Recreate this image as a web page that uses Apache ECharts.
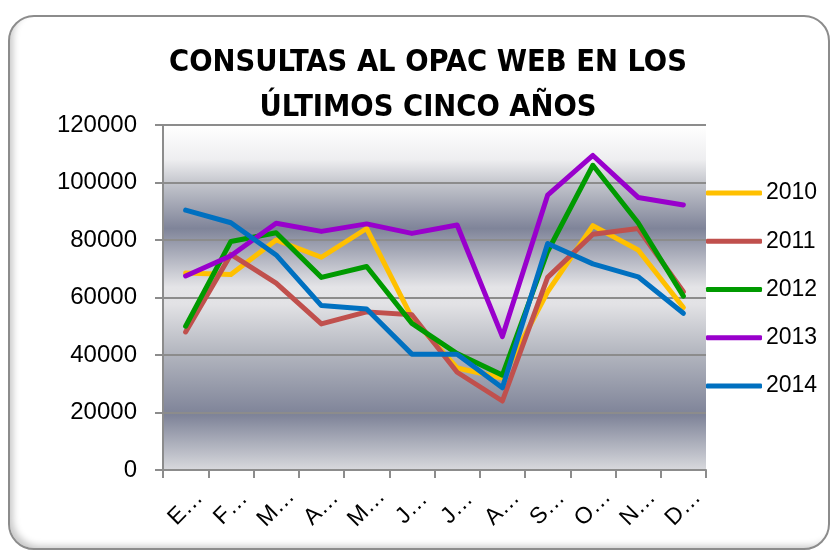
<!DOCTYPE html>
<html>
<head>
<meta charset="utf-8">
<script src="https://cdn.jsdelivr.net/npm/echarts@6/dist/echarts.min.js"></script>
<style>
  html, body { margin: 0; padding: 0; background: #ffffff; }
  #wrap { position: relative; width: 832px; height: 552px; overflow: hidden; }
  #frame {
    position: absolute; left: 8px; top: 15px; width: 822px; height: 535px;
    border: 2px solid #8c8c8c; border-radius: 26px; background: #ffffff;
    box-shadow: inset 6px -5px 7px -3px rgba(0,0,0,0.22);
    box-sizing: border-box;
  }
  #chart { position: absolute; left: 0; top: 0; width: 832px; height: 552px; }
</style>
</head>
<body>
<div id="wrap">
  <div id="frame"></div>
  <div id="chart"></div>
</div>
<script>
// Monthly OPAC web queries, one array per year
const months = ['Enero', 'Febrero', 'Marzo', 'Abril', 'Mayo', 'Junio',
                'Julio', 'Agosto', 'Septiembre', 'Octubre', 'Noviembre', 'Diciembre'];
const years = ['2010', '2011', '2012', '2013', '2014'];
const q2010 = [68500, 68000, 80000, 74000, 84000, 53000, 35500, 32000, 62000, 85000, 76500, 56500];
const q2011 = [48000, 75000, 65000, 50800, 55000, 54000, 34000, 24000, 67000, 82000, 84000, 62000];
const q2012 = [50000, 79500, 82500, 67000, 70800, 51000, 40500, 33000, 76000, 106000, 86000, 60500];
const q2013 = [67500, 74500, 85800, 83000, 85600, 82300, 85200, 46400, 95600, 109400, 94800, 92200];
const q2014 = [90400, 86000, 74800, 57200, 56000, 40300, 40300, 28600, 78800, 71700, 67200, 54500];
const yearColors = ['#ffc000', '#c0504d', '#009a00', '#9900cc', '#0070c0'];
const chartTitle = 'CONSULTAS AL OPAC WEB EN LOS\nÚLTIMOS CINCO AÑOS';

const values = [q2010, q2011, q2012, q2013, q2014];
const baseFont = '"Liberation Sans", Arial, sans-serif';

const chart = echarts.init(document.getElementById('chart'), null, { renderer: 'canvas' });

chart.setOption({
  backgroundColor: 'transparent',
  animation: false,
  color: yearColors,
  title: {
    text: chartTitle,
    left: 423,
    textAlign: 'center',
    top: 36,
    textStyle: {
      fontFamily: '"Liberation Sans Narrow", "DejaVu Sans Condensed", sans-serif',
      fontWeight: 'bold',
      fontSize: 30.5,
      lineHeight: 45,
      color: '#000000'
    }
  },
  grid: {
    left: 163, right: 126, top: 125, bottom: 82,
    show: true,
    borderWidth: 0,
    backgroundColor: {
      type: 'linear', x: 0, y: 0, x2: 0, y2: 1,
      colorStops: [
        { offset: 0.00, color: '#ffffff' },
        { offset: 0.10, color: '#eeeef0' },
        { offset: 0.17, color: '#c3c5cc' },
        { offset: 0.30, color: '#7f8499' },
        { offset: 0.47, color: '#e4e4e7' },
        { offset: 0.52, color: '#e2e2e5' },
        { offset: 0.66, color: '#b3b6bf' },
        { offset: 0.84, color: '#7e8398' },
        { offset: 1.00, color: '#d8d9dd' }
      ]
    }
  },
  legend: {
    orient: 'vertical',
    left: 701,
    top: 176,
    itemWidth: 56,
    itemHeight: 5,
    itemGap: 24.25,
    icon: 'roundRect',
    textStyle: {
      fontFamily: baseFont, fontSize: 23, lineHeight: 24, height: 24,
      color: '#000000', padding: [0, 0, 0, -1]
    },
    data: years
  },
  xAxis: {
    type: 'category',
    data: months,
    boundaryGap: true,
    axisLine: { show: true, lineStyle: { color: '#8c8c8c', width: 2 } },
    axisTick: { show: true, length: 8, lineStyle: { color: '#8c8c8c', width: 2 } },
    axisLabel: {
      rotate: 45,
      align: 'center',
      verticalAlign: 'middle',
      margin: 38,
      interval: 0,
      fontFamily: baseFont,
      fontSize: 23,
      color: '#000000',
      formatter: (v) => v.charAt(0) + '…'
    },
    splitLine: { show: false }
  },
  yAxis: {
    type: 'value',
    min: 0,
    max: 120000,
    interval: 20000,
    axisLine: { show: true, lineStyle: { color: '#8c8c8c', width: 2 } },
    axisTick: { show: true, length: 8, lineStyle: { color: '#8c8c8c', width: 2 } },
    axisLabel: {
      margin: 26,
      fontFamily: baseFont,
      fontSize: 24,
      color: '#000000',
      formatter: (v) => String(v)
    },
    splitLine: { show: true, lineStyle: { color: '#8c8c8c', width: 2 } }
  },
  series: years.map((y, i) => ({
    name: y,
    type: 'line',
    data: values[i],
    symbol: 'none',
    lineStyle: { width: 5, color: yearColors[i], cap: 'round', join: 'round' },
    itemStyle: { color: yearColors[i] }
  }))
});
</script>
</body>
</html>
